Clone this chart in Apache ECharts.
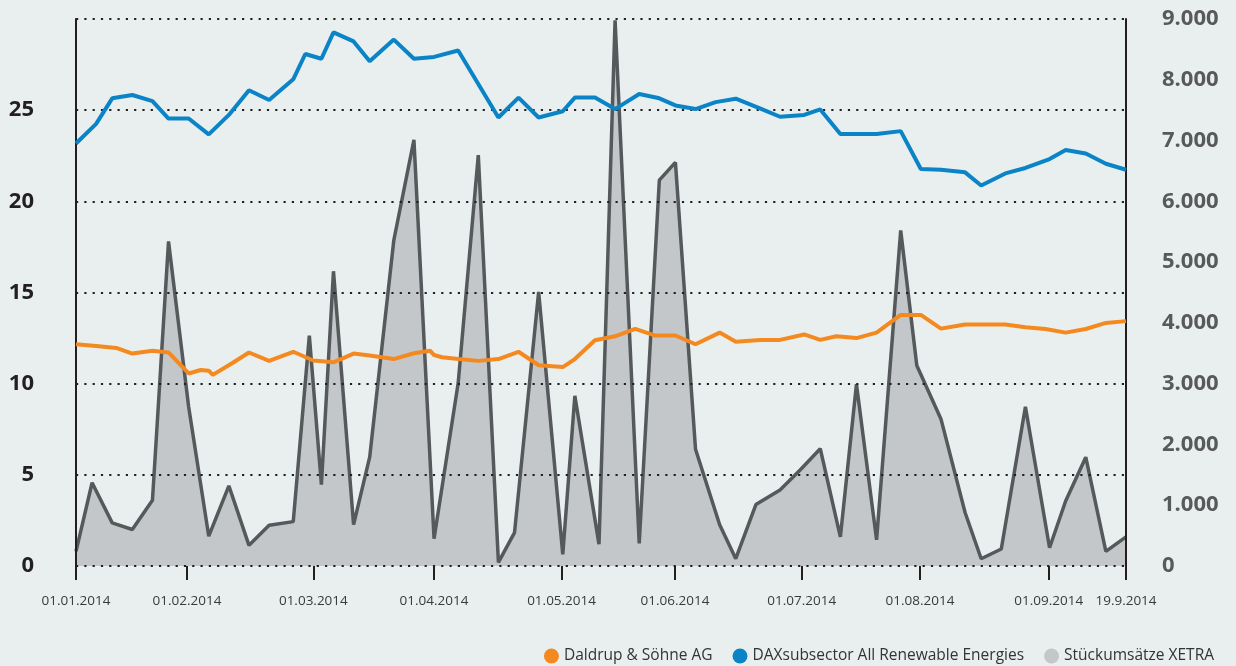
<!DOCTYPE html>
<html>
<head>
<meta charset="utf-8">
<title>Daldrup &amp; Söhne AG</title>
<script src="https://cdn.jsdelivr.net/npm/echarts@6.0.0/dist/echarts.min.js"></script>
<style>
	html, body { margin: 0; padding: 0; background: #e9efef; }
	#e_chart_1 { width: 1236px; height: 666px; }
</style>
</head>
<body>
<div id="e_chart_1"></div>
<script>
/*Chart Init*/

"use strict";

/*****Data start*****/
// x values are days since 01.01.2014
var tickDays = [0, 27.6, 59, 89, 120.7, 148.9, 180.4, 209.8, 241.8, 261];
var tickLabels = ['01.01.2014', '01.02.2014', '01.03.2014', '01.04.2014', '01.05.2014',
	'01.06.2014', '01.07.2014', '01.08.2014', '01.09.2014', '19.9.2014'];

// Daldrup & Söhne AG (left axis)
var daldrupDays = [0, 5, 10, 14, 19, 23, 28, 31, 33, 34, 39, 43, 48, 54, 59, 64, 69, 73, 79, 84,
	88, 89, 91, 95, 100, 105, 110, 115, 121, 124, 129, 134, 139, 144, 149, 154, 160, 164, 170, 175,
	181, 185, 189, 194, 199, 205, 210, 215, 221, 225, 231, 236, 241, 246, 251, 256, 261];
var daldrupValues = [12.16, 12.06, 11.96, 11.65, 11.81, 11.71, 10.56, 10.75, 10.71, 10.48, 11.15, 11.71, 11.25, 11.75, 11.27, 11.17, 11.65, 11.55, 11.35, 11.67,
	11.81, 11.57, 11.45, 11.35, 11.25, 11.35, 11.75, 11.01, 10.91, 11.35, 12.38, 12.60, 13.00, 12.64, 12.64, 12.16, 12.80, 12.30, 12.40, 12.40,
	12.70, 12.40, 12.60, 12.50, 12.80, 13.77, 13.77, 13.02, 13.25, 13.25, 13.25, 13.10, 13.00, 12.80, 13.00, 13.33, 13.43];

// DAXsubsector All Renewable Energies (left axis)
var daxDays = [0, 5, 9, 14, 19, 23, 28, 33, 38, 43, 48, 54, 57, 61, 64, 69, 73, 79, 84, 89,
	95, 105, 110, 115, 121, 124, 129, 134, 140, 145, 149, 154, 159, 164, 170, 175, 181, 185, 190, 199,
	205, 210, 215, 221, 225, 231, 236, 242, 246, 251, 256, 261];
var daxValues = [23.17, 24.25, 25.65, 25.83, 25.50, 24.54, 24.54, 23.67, 24.74, 26.09, 25.56, 26.69, 28.08, 27.82, 29.27, 28.77, 27.68, 28.87, 27.82, 27.92,
	28.27, 24.60, 25.69, 24.60, 24.94, 25.69, 25.69, 25.06, 25.89, 25.65, 25.26, 25.06, 25.44, 25.63, 25.10, 24.64, 24.74, 25.04, 23.69, 23.69,
	23.85, 21.77, 21.73, 21.59, 20.87, 21.53, 21.83, 22.32, 22.82, 22.62, 22.06, 21.73];

// Stückumsätze XETRA (right axis)
var volumeDays = [0, 4, 9, 14, 19, 23, 28, 33, 38, 43, 48, 54, 58, 61, 64, 69, 73, 79, 84, 89,
	95, 100, 105, 109, 115, 121, 124, 130, 134, 140, 145, 149, 154, 160, 164, 169, 175, 180, 185, 190,
	194, 199, 205, 209, 215, 221, 225, 230, 236, 242, 246, 251, 256, 261];
var volumeValues = [240, 1370, 710, 600, 1080, 5340, 2620, 490, 1320, 340, 670, 730, 3790, 1340, 4850, 680, 1790, 5360, 7010, 450,
	3010, 6760, 60, 550, 4510, 190, 2800, 360, 8980, 370, 6350, 6640, 1920, 680, 120, 1010, 1250, 1580, 1930, 480,
	2990, 430, 5520, 3300, 2420, 880, 120, 280, 2620, 300, 1070, 1790, 240, 480];
/*****Data end*****/

var pairs = function(days, values) {
	return days.map(function(d, i) { return [d, values[i]]; });
};

var fontFamily = "'Open Sans', sans-serif";

/*****E-Charts function start*****/
var echartsConfig = function() {
	var eChart_1 = echarts.init(document.getElementById('e_chart_1'));
	var option = {
		animation: false,
		backgroundColor: '#e9efef',
		grid: {
			left: 76,
			right: 110,
			top: 19,
			bottom: 100
		},
		legend: {
			data: ['Daldrup & Söhne AG', 'DAXsubsector All Renewable Energies', 'Stückumsätze XETRA'],
			icon: 'circle',
			itemWidth: 15,
			itemHeight: 15,
			itemGap: 20,
			right: 17,
			top: 643,
			textStyle: {
				color: '#333',
				fontFamily: fontFamily,
				fontSize: 15.5
			}
		},
		xAxis: {
			type: 'value',
			min: 0,
			max: 261,
			axisLine: {
				show: false
			},
			splitLine: {
				show: false
			},
			axisTick: {
				show: true,
				customValues: tickDays,
				length: 14,
				lineStyle: {
					color: '#231f20',
					width: 2
				}
			},
			axisLabel: {
				customValues: tickDays,
				margin: 28,
				color: '#3a3a3a',
				fontFamily: fontFamily,
				fontSize: 13.5,
				formatter: function(v) {
					var i = tickDays.indexOf(v);
					return i > -1 ? tickLabels[i] : '';
				}
			}
		},
		yAxis: [{
			type: 'value',
			position: 'left',
			min: 0,
			max: 30,
			interval: 5,
			z: 3,
			axisLine: {
				show: true,
				lineStyle: {
					color: '#231f20',
					width: 2
				}
			},
			axisTick: {
				show: false
			},
			axisLabel: {
				margin: 42,
				color: '#231f20',
				fontFamily: fontFamily,
				fontWeight: 'bold',
				fontSize: 22,
				formatter: function(v) {
					return v === 30 ? '' : v;
				}
			},
			splitLine: {
				show: true,
				lineStyle: {
					color: '#231f20',
					width: 2.2,
					type: [2.2, 6.1]
				}
			}
		}, {
			type: 'value',
			position: 'right',
			min: 0,
			max: 9000,
			interval: 1000,
			z: 3,
			axisLine: {
				show: true,
				lineStyle: {
					color: '#231f20',
					width: 2
				}
			},
			axisTick: {
				show: false
			},
			axisLabel: {
				margin: 36,
				color: '#58595b',
				fontFamily: fontFamily,
				fontWeight: 'bold',
				fontSize: 22,
				formatter: function(v) {
					return v === 0 ? '0' : (v / 1000) + '.000';
				}
			},
			splitLine: {
				show: false
			}
		}],
		series: [{
			name: 'Stückumsätze XETRA',
			type: 'line',
			yAxisIndex: 1,
			z: 1,
			showSymbol: false,
			itemStyle: {
				color: '#c4c7ca'
			},
			lineStyle: {
				color: '#55595c',
				width: 3.5
			},
			areaStyle: {
				color: '#c4c7ca',
				opacity: 1
			},
			data: pairs(volumeDays, volumeValues)
		}, {
			name: 'Daldrup & Söhne AG',
			type: 'line',
			yAxisIndex: 0,
			z: 5,
			showSymbol: false,
			itemStyle: {
				color: '#f4891f'
			},
			lineStyle: {
				color: '#f4891f',
				width: 4
			},
			data: pairs(daldrupDays, daldrupValues)
		}, {
			name: 'DAXsubsector All Renewable Energies',
			type: 'line',
			yAxisIndex: 0,
			z: 5,
			showSymbol: false,
			itemStyle: {
				color: '#0a84c6'
			},
			lineStyle: {
				color: '#0a84c6',
				width: 4
			},
			data: pairs(daxDays, daxValues)
		}]
	};
	eChart_1.setOption(option);
	eChart_1.resize();
};
/*****E-Charts function end*****/

/*****Function Call start*****/
echartsConfig();
/*****Function Call end*****/
</script>
</body>
</html>
